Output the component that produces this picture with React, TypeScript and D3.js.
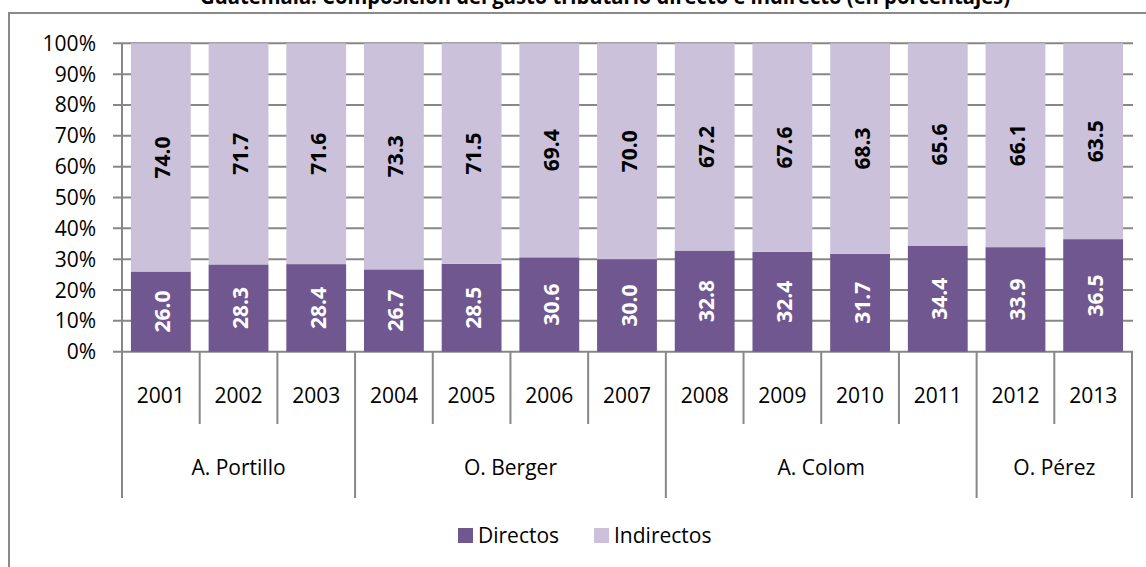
import React, { useEffect, useRef } from 'react';
import * as d3 from 'd3';

// datos
const years = ['2001', '2002', '2003', '2004', '2005', '2006', '2007', '2008', '2009', '2010', '2011', '2012', '2013'];
const directos = [26.0, 28.3, 28.4, 26.7, 28.5, 30.6, 30.0, 32.8, 32.4, 31.7, 34.4, 33.9, 36.5];
const indirectos = [74.0, 71.7, 71.6, 73.3, 71.5, 69.4, 70.0, 67.2, 67.6, 68.3, 65.6, 66.1, 63.5];
const groups = ['A. Portillo', 'O. Berger', 'A. Colom', 'O. Pérez'];
const groupSizes = [3, 4, 4, 2];
const yTicks = [0, 10, 20, 30, 40, 50, 60, 70, 80, 90, 100];
const seriesNames = ['Directos', 'Indirectos'];

const title = 'Guatemala: Composición del gasto tributario directo e indirecto (en porcentajes)';

const colDir = '#715790';
const colInd = '#CBC1DB';
const grid = '#878787';
const font = "'Open Sans', 'Liberation Sans', sans-serif";

function App() {
  const ref = useRef<SVGSVGElement>(null);

  useEffect(() => {
    const svg = d3.select(ref.current);
    svg.selectAll('*').remove();

    const left = 122, right = 1132, top = 43.3, bottom = 351.7;

    const x = d3.scaleBand().domain(years).range([left, right]).paddingInner(0.23).paddingOuter(0.115);
    const y = d3.scaleLinear().domain([0, 100]).range([bottom, top]);
    const step = x.step();
    const edge = (i: number) => (x(years[i]) as number) - (step * 0.23) / 2;

    // titulo (cortado arriba, como en el original)
    svg.append('text')
      .attr('x', 605).attr('y', 4)
      .attr('text-anchor', 'middle')
      .attr('font-family', font).attr('font-weight', 'bold').attr('font-size', 22)
      .attr('textLength', 810).attr('lengthAdjust', 'spacingAndGlyphs')
      .text(title);

    // marco
    svg.append('rect')
      .attr('x', 9).attr('y', 13).attr('width', 1200).attr('height', 600)
      .attr('fill', 'none').attr('stroke', '#8a8a8a').attr('stroke-width', 2);

    // rejilla
    svg.append('g').selectAll('line').data(yTicks).enter().append('line')
      .attr('x1', left - 9).attr('x2', right + 1)
      .attr('y1', d => y(d)).attr('y2', d => y(d))
      .attr('stroke', grid).attr('stroke-width', 2);

    svg.append('g').selectAll('text').data(yTicks).enter().append('text')
      .attr('x', 96).attr('y', d => y(d) + 7.5)
      .attr('text-anchor', 'end')
      .attr('font-family', font).attr('font-size', 21)
      .text(d => d + '%');

    // barras
    const bars = svg.append('g');
    years.forEach((yr, i) => {
      const bx = x(yr) as number;
      bars.append('rect')
        .attr('x', bx).attr('width', x.bandwidth())
        .attr('y', y(directos[i])).attr('height', y(0) - y(directos[i]))
        .attr('fill', colDir);
      bars.append('rect')
        .attr('x', bx).attr('width', x.bandwidth())
        .attr('y', y(directos[i] + indirectos[i])).attr('height', y(directos[i]) - y(directos[i] + indirectos[i]))
        .attr('fill', colInd);
    });

    // etiquetas de valores
    const labels = svg.append('g')
      .attr('font-family', font).attr('font-weight', 'bold').attr('font-size', 21)
      .attr('text-anchor', 'middle');
    years.forEach((yr, i) => {
      const cx = (x(yr) as number) + x.bandwidth() / 2;
      const c1 = y(directos[i] / 2);
      const c2 = y(directos[i] + indirectos[i] / 2);
      labels.append('text')
        .attr('transform', `translate(${cx + 9.5},${c1}) rotate(-90)`)
        .attr('fill', '#ffffff')
        .text(directos[i].toFixed(1));
      labels.append('text')
        .attr('transform', `translate(${cx + 9.5},${c2}) rotate(-90)`)
        .attr('fill', '#000000')
        .text(indirectos[i].toFixed(1));
    });

    // eje y
    svg.append('line')
      .attr('x1', left).attr('x2', left).attr('y1', top).attr('y2', bottom)
      .attr('stroke', grid).attr('stroke-width', 2);

    // eje x jerarquico
    const starts: number[] = [];
    let acc = 0;
    groupSizes.forEach(n => { starts.push(acc); acc += n; });

    const axis = svg.append('g');
    for (let i = 0; i <= years.length; i++) {
      const xx = i < years.length ? edge(i) : right;
      const isGroup = i === years.length || starts.includes(i);
      axis.append('line')
        .attr('x1', xx).attr('x2', xx)
        .attr('y1', bottom).attr('y2', isGroup ? 498 : 424)
        .attr('stroke', grid).attr('stroke-width', 2);
    }

    axis.selectAll('text.yr').data(years).enter().append('text')
      .attr('class', 'yr')
      .attr('x', d => (x(d) as number) + x.bandwidth() / 2)
      .attr('y', 402.5)
      .attr('text-anchor', 'middle')
      .attr('font-family', font).attr('font-size', 21)
      .text(d => d);

    groups.forEach((g, k) => {
      const x0 = edge(starts[k]);
      const endIdx = starts[k] + groupSizes[k];
      const x1 = endIdx < years.length ? edge(endIdx) : right;
      axis.append('text')
        .attr('x', (x0 + x1) / 2).attr('y', 475)
        .attr('text-anchor', 'middle')
        .attr('font-family', font).attr('font-size', 21)
        .text(g);
    });

    // leyenda
    const legendX = [458, 594];
    const legend = svg.append('g');
    seriesNames.forEach((s, i) => {
      legend.append('rect')
        .attr('x', legendX[i]).attr('y', 528).attr('width', 15).attr('height', 15)
        .attr('fill', i === 0 ? colDir : colInd);
      legend.append('text')
        .attr('x', legendX[i] + 20).attr('y', 542.5)
        .attr('font-family', font).attr('font-size', 21)
        .text(s);
    });
  }, []);

  return (
    <svg ref={ref} width={1146} height={567}
      style={{ position: 'absolute', left: 0, top: 0, background: '#fff' }} />
  );
}

export default App;
